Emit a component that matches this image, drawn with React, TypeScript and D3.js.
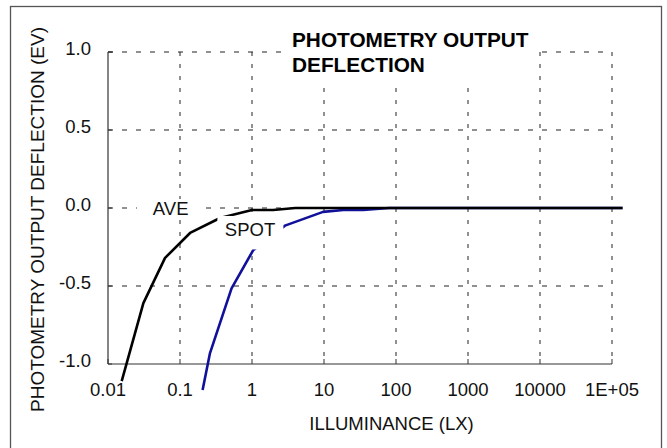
import React from 'react';
import * as d3 from 'd3';

// readings of the two curves (lux -> EV deflection)
const aveLux = [0.0155, 0.031, 0.062, 0.138, 0.36, 1.0, 1.96, 4, 140000];
const aveEv = [-1.11, -0.61, -0.32, -0.16, -0.064, -0.013, -0.013, 0, 0];
const spotLux = [0.206, 0.261, 0.52, 1.04, 2.87, 9.7, 18.6, 35, 80, 140000];
const spotEv = [-1.167, -0.93, -0.515, -0.27, -0.113, -0.025, -0.013, -0.013, 0, 0];

const xTicks = [0.01, 0.1, 1, 10, 100, 1000, 10000, 100000];
const xTickLabels = ['0.01', '0.1', '1', '10', '100', '1000', '10000', '1E+05'];
const yTicks = [-1, -0.5, 0, 0.5, 1];
const yTickLabels = ['-1.0', '-0.5', '0.0', '0.5', '1.0'];

const font = "'Liberation Sans', Arial, sans-serif";

export default function App() {
    const W = 667;
    const H = 448;
    const margin = { top: 52, right: 55, bottom: 84, left: 108 };

    const x = d3.scaleLog().domain([0.01, 1e5]).range([margin.left, W - margin.right]);
    const y = d3.scaleLinear().domain([-1, 1]).range([H - margin.bottom, margin.top]);

    const line = d3
        .line<[number, number]>()
        .x((d) => x(d[0]))
        .y((d) => y(d[1]));

    const avePts = aveLux.map((v, i) => [v, aveEv[i]] as [number, number]);
    const spotPts = spotLux.map((v, i) => [v, spotEv[i]] as [number, number]);

    const x0 = x.range()[0];
    const x1 = x.range()[1];
    const yTop = y.range()[1];
    const yBot = y.range()[0];

    const aveAt = { x: x(0.042), y: y(-0.045) };
    const spotAt = { x: x(0.42), y: y(-0.178) };

    return (
        <svg
            width={W}
            height={H}
            style={{ position: 'absolute', left: 0, top: 0, background: '#fff' }}
            fontFamily={font}
        >
            {/* grid */}
            {yTicks.filter((t) => t !== -1).map((t) => (
                <line key={'gy' + t} x1={x0} x2={x1} y1={y(t)} y2={y(t)}
                    stroke="#222" strokeWidth={1} strokeDasharray="5,9" />
            ))}
            {xTicks.filter((t) => t !== 0.01).map((t) => (
                <line key={'gx' + t} x1={x(t)} x2={x(t)} y1={yTop} y2={yBot}
                    stroke="#222" strokeWidth={1} strokeDasharray="4,8" />
            ))}

            {/* axes */}
            <line x1={x0} x2={x0} y1={yTop} y2={yBot} stroke="#333" strokeWidth={1.2} />
            <line x1={x0} x2={x1} y1={yBot} y2={yBot} stroke="#333" strokeWidth={1.2} />
            <line x1={x0} x2={x0 + 5} y1={yTop} y2={yTop} stroke="#333" strokeWidth={1} />
            {yTicks.map((t) => (
                <line key={'ty' + t} x1={x0} x2={x0 + 4} y1={y(t)} y2={y(t)} stroke="#333" strokeWidth={1} />
            ))}
            {xTicks.map((t) => (
                <line key={'tx' + t} x1={x(t)} x2={x(t)} y1={yBot} y2={yBot - 5} stroke="#333" strokeWidth={1} />
            ))}

            {yTicks.map((t, i) => (
                <text key={'ly' + t} x={x0 - 17} y={y(t) + 2.5} textAnchor="end" fontSize={18.5} fill="#111">
                    {yTickLabels[i]}
                </text>
            ))}
            {xTicks.map((t, i) => (
                <text key={'lx' + t} x={x(t)} y={yBot + 32} textAnchor="middle" fontSize={18.5} fill="#111">
                    {xTickLabels[i]}
                </text>
            ))}

            <text x={391.5} y={430} textAnchor="middle" fontSize={18.5} fill="#111">
                ILLUMINANCE (LX)
            </text>
            <text transform="translate(43.5,219.5) rotate(-90)" textAnchor="middle" fontSize={19} fill="#111">
                PHOTOMETRY OUTPUT DEFLECTION (EV)
            </text>

            {/* curves */}
            <path d={line(spotPts) || ''} fill="none" stroke="#10109a" strokeWidth={2.6} strokeLinejoin="round" />
            <path d={line(avePts) || ''} fill="none" stroke="#000" strokeWidth={2.6} strokeLinejoin="round" />

            {/* curve labels */}
            <rect x={aveAt.x - 16} y={aveAt.y - 16} width={69} height={20} fill="#fff" />
            <text x={aveAt.x} y={aveAt.y} fontSize={18.5} fill="#111">AVE</text>
            <rect x={spotAt.x - 7.5} y={spotAt.y - 19.8} width={66} height={33.5} fill="#fff" />
            <text x={spotAt.x} y={spotAt.y} fontSize={18.5} fill="#111">SPOT</text>

            {/* title */}
            <rect x={287} y={28} width={250} height={52} fill="#fff" />
            <text x={292} y={47.3} fontSize={20.8} fontWeight="bold" fill="#000">PHOTOMETRY OUTPUT</text>
            <text x={292} y={71.5} fontSize={20.8} fontWeight="bold" fill="#000">DEFLECTION</text>

            {/* frame */}
            <rect x={10.5} y={6.5} width={651} height={450} fill="none" stroke="#555" strokeWidth={1.3} />
        </svg>
    );
}
